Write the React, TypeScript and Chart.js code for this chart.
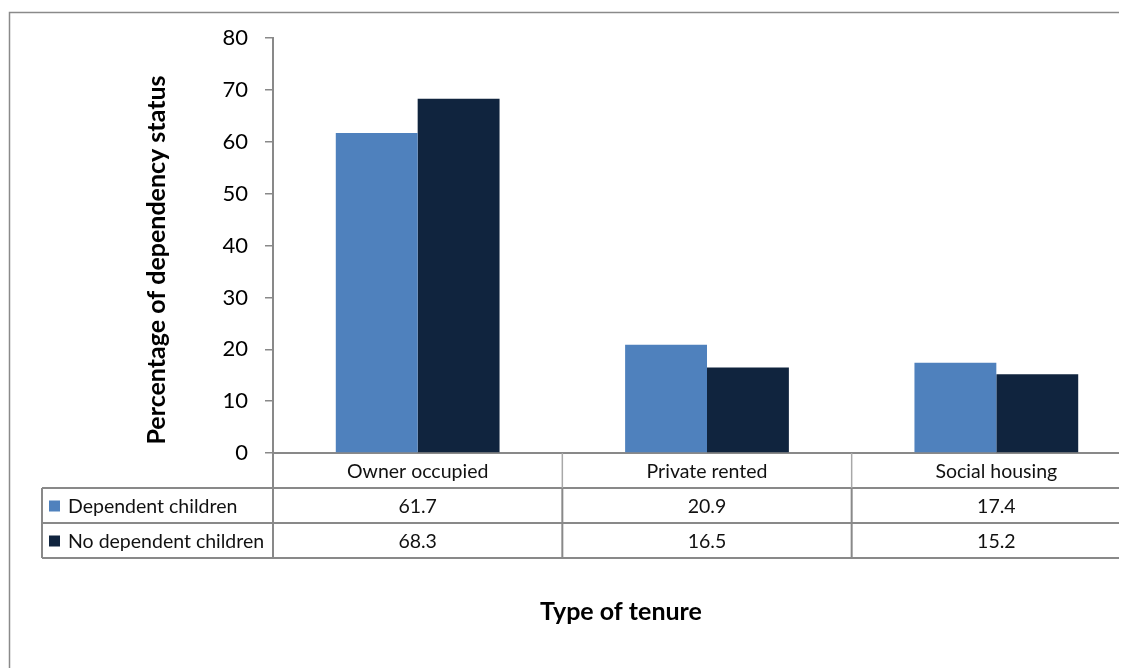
import React, { useEffect, useRef } from "react";
import { Chart, registerables } from "chart.js";

Chart.register(...registerables);

const categories = ["Owner occupied", "Private rented", "Social housing"];
const seriesNames = ["Dependent children", "No dependent children"];
const dependentChildren = [61.7, 20.9, 17.4];
const noDependentChildren = [68.3, 16.5, 15.2];
const seriesColors = ["#4F81BD", "#10243E"];
const yMin = 0;
const yMax = 80;
const yStep = 10;
const yAxisTitle = "Percentage of dependency status";
const xAxisTitle = "Type of tenure";

const FONT = "Lato, 'Open Sans', 'DejaVu Sans', sans-serif";
const LINE = "#898989";

const frameAndTable = {
  id: "frameAndTable",
  beforeDraw(chart: any) {
    const ctx = chart.ctx;
    ctx.save();
    ctx.fillStyle = "#ffffff";
    ctx.fillRect(0, 0, chart.width, chart.height);
    ctx.strokeStyle = "#8a8a8a";
    ctx.lineWidth = 1.5;
    ctx.strokeRect(1.5, 4.5, chart.width + 20, chart.height + 20);
    ctx.restore();
  },
  afterDraw(chart: any) {
    const ctx = chart.ctx;
    const xs = chart.scales.x;
    const area = chart.chartArea;
    const rowH = 35;
    const top = area.bottom;
    const r1 = top + rowH;
    const r2 = r1 + rowH;
    const r3 = r2 + rowH;
    const tableLeft = 34;
    const right = chart.width + 5;
    const labels: string[] = chart.data.labels;
    const n = labels.length;
    const bounds: number[] = [];
    for (let i = 0; i <= n; i++) {
      if (i === 0) bounds.push(xs.left);
      else if (i === n) bounds.push(xs.right);
      else bounds.push((xs.getPixelForValue(i - 1) + xs.getPixelForValue(i)) / 2);
    }
    ctx.save();
    ctx.strokeStyle = LINE;
    ctx.lineWidth = 2;
    ctx.beginPath();
    [r1, r2, r3].forEach((y) => {
      ctx.moveTo(tableLeft, y);
      ctx.lineTo(right, y);
    });
    ctx.moveTo(tableLeft, r1);
    ctx.lineTo(tableLeft, r3);
    bounds.forEach((bx, i) => {
      ctx.moveTo(bx, i === 0 ? top : r1);
      ctx.lineTo(bx, r3);
    });
    ctx.stroke();
    ctx.strokeStyle = "#a8a8a8";
    ctx.lineWidth = 1.5;
    ctx.beginPath();
    bounds.forEach((bx, i) => {
      if (i === 0) return;
      ctx.moveTo(bx, top);
      ctx.lineTo(bx, r1);
    });
    ctx.stroke();

    ctx.fillStyle = "#111111";
    ctx.font = `19.5px ${FONT}`;
    ctx.textAlign = "center";
    ctx.textBaseline = "middle";
    labels.forEach((lab, i) => {
      ctx.fillText(lab, xs.getPixelForValue(i), top + rowH / 2 + 1);
    });
    chart.data.datasets.forEach((ds: any, di: number) => {
      const yc = (di === 0 ? r1 : r2) + rowH / 2 + 1;
      ds.data.forEach((v: number, i: number) => {
        ctx.textAlign = "center";
        ctx.fillStyle = "#111111";
        ctx.fillText(v.toFixed(1), xs.getPixelForValue(i), yc);
      });
      ctx.fillStyle = ds.backgroundColor;
      ctx.fillRect(tableLeft + 7, yc - 6, 11, 11);
      ctx.fillStyle = "#111111";
      ctx.textAlign = "left";
      ctx.fillText(ds.label, tableLeft + 26, yc);
    });

    ctx.font = `bold 25px ${FONT}`;
    ctx.textAlign = "center";
    ctx.fillStyle = "#000000";
    ctx.fillText(xAxisTitle, 613, 604);

    ctx.translate(149, 252);
    ctx.rotate(-Math.PI / 2);
    ctx.fillText(yAxisTitle, 0, 0);
    ctx.restore();
  },
};

export default function App() {
  const ref = useRef<HTMLCanvasElement | null>(null);
  useEffect(() => {
    document.body.style.overflow = "hidden";
    const canvas = ref.current;
    if (!canvas) return;
    const chart = new Chart(canvas, {
      type: "bar",
      data: {
        labels: categories,
        datasets: [
          { label: seriesNames[0], data: dependentChildren, backgroundColor: seriesColors[0] },
          { label: seriesNames[1], data: noDependentChildren, backgroundColor: seriesColors[1] },
        ],
      },
      options: {
        responsive: false,
        animation: false,
        devicePixelRatio: 1,
        layout: { padding: { top: 30, right: 7, left: 0, bottom: 0 } },
        datasets: { bar: { categoryPercentage: 0.566, barPercentage: 1 } } as any,
        plugins: {
          legend: { display: false },
          tooltip: { enabled: false },
        },
        scales: {
          x: {
            ticks: { display: false },
            grid: { display: false, drawTicks: false },
            border: { display: true, color: LINE, width: 2 },
            afterFit: (s: any) => {
              s.height = 215;
            },
          },
          y: {
            min: yMin,
            max: yMax,
            ticks: {
              stepSize: yStep,
              color: "#000000",
              font: { family: FONT, size: 22 },
              padding: 17,
            },
            grid: { drawOnChartArea: false, drawTicks: true, tickLength: 8, color: LINE, lineWidth: 1.5 },
            border: { display: true, color: LINE, width: 2 },
            afterFit: (s: any) => {
              s.width = 265;
            },
          },
        },
      },
      plugins: [frameAndTable],
    });
    return () => chart.destroy();
  }, []);
  return (
    <div style={{ width: 1119, height: 660, overflow: "hidden", position: "relative" }}>
      <canvas ref={ref} width={1140} height={660} style={{ width: 1140, height: 660, display: "block" }} />
    </div>
  );
}
